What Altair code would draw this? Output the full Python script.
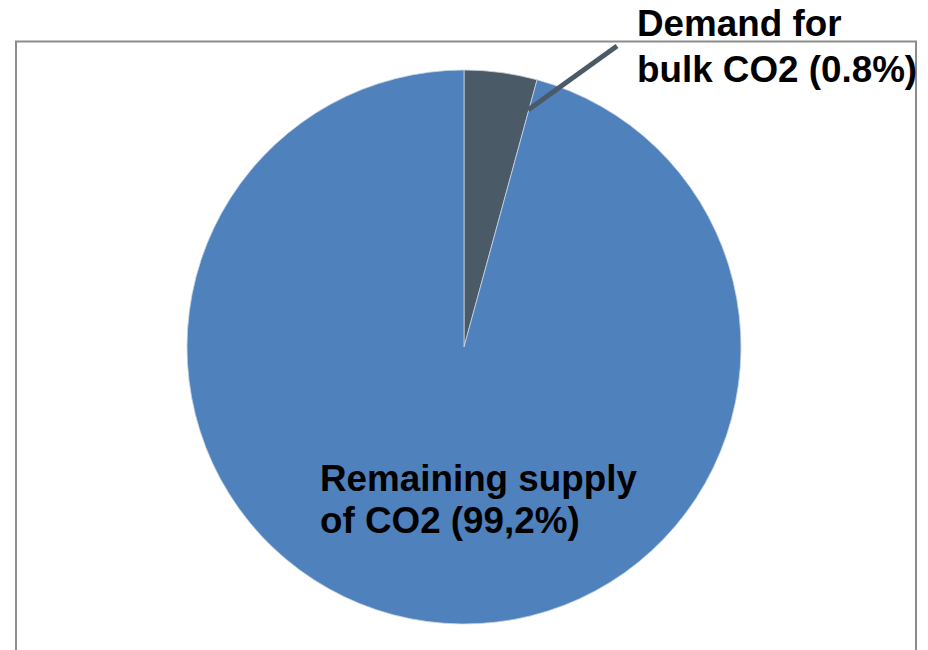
import altair as alt
import pandas as pd

categories = ["Demand for bulk CO2", "Remaining supply of CO2"]
slice_values = [4.25, 95.75]
slice_order = [0, 1]
slice_colors = ["#4a5a67", "#4f81bd"]

label_lines = [["Demand for", "bulk CO2 (0.8%)"], ["Remaining supply", "of CO2 (99,2%)"]]

pie_df = pd.DataFrame({"category": categories, "value": slice_values, "order": slice_order})

W, H = 928, 650

frame = alt.Chart(pd.DataFrame({"k": [0]})).mark_rect(
    fill="white", stroke="#8c8c8c", strokeWidth=2
).encode(x=alt.value(16), x2=alt.value(916), y=alt.value(41.5), y2=alt.value(720))

pie = alt.Chart(pie_df).mark_arc(radius=277, stroke="#c9d4e2", strokeWidth=0.8).encode(
    theta=alt.Theta("value:Q", stack=True),
    order=alt.Order("order:Q"),
    color=alt.Color("category:N", scale=alt.Scale(domain=categories, range=slice_colors), legend=None),
    x=alt.value(464),
    y=alt.value(347),
)

leader = alt.Chart(pd.DataFrame({"k": [0]})).mark_rule(
    color="#4a5a67", strokeWidth=5
).encode(x=alt.value(528), y=alt.value(110), x2=alt.value(617), y2=alt.value(46))

label_df = pd.DataFrame({"category": categories, "text": label_lines})
text1 = alt.Chart(label_df.iloc[[0]]).mark_text(
    font="Liberation Sans", fontWeight="bold", fontSize=36.8, align="left",
    baseline="alphabetic", lineHeight=46, color="black"
).encode(text="text", x=alt.value(637), y=alt.value(36))

text2 = alt.Chart(label_df.iloc[[1]]).mark_text(
    font="Liberation Sans", fontWeight="bold", fontSize=36.8, align="left",
    baseline="alphabetic", lineHeight=42, color="black"
).encode(text="text", x=alt.value(320), y=alt.value(491))

chart = alt.layer(frame, pie, leader, text1, text2).properties(
    width=W, height=H, padding=0, autosize=alt.AutoSizeParams(type="none"),
    background="white"
).configure_view(stroke=None)

chart.save("out.html", embed_options={"renderer": "svg", "actions": False})
